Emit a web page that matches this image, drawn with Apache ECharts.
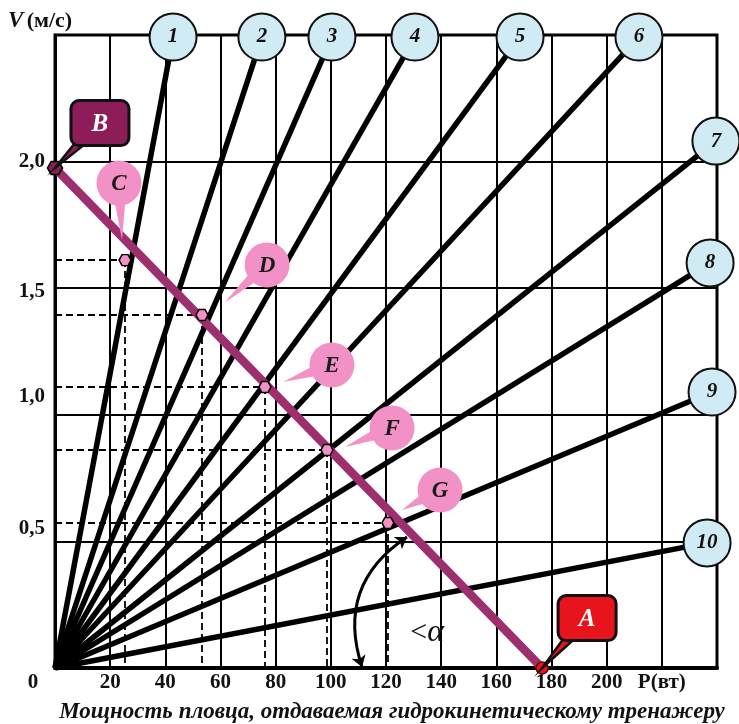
<!DOCTYPE html>
<html><head><meta charset="utf-8">
<script src="https://cdn.jsdelivr.net/npm/echarts@6/dist/echarts.min.js"></script>
<style>html,body{margin:0;padding:0;background:#fff}#c{width:739px;height:724px}</style>
</head><body><div id="c"></div>
<script>
// ---- data ----
const xTickLabels = ['0','20','40','60','80','100','120','140','160','180','200','P(вт)',''];
const yTickLabels = ['','0,5','1,0','1,5','2,0',''];
const rayLabels = ['1','2','3','4','5','6','7','8','9','10'];
const rayEndX = [42.8, 75.0, 100.4, 130.5, 168.6, 211.7, 239.6, 237.5, 238.2, 236.4];
const rayEndY = [2.492, 2.492, 2.492, 2.492, 2.492, 2.492, 2.081, 1.600, 1.090, 0.494];
const pointLabels = ['C','D','E','F','G'];
const pointX = [25.4, 53.3, 76.1, 98.6, 120.7];
const pointY = [1.611, 1.394, 1.110, 0.861, 0.573];
const bubbleX = [23.2, 76.9, 100.4, 122.2, 139.6];
const bubbleY = [1.915, 1.592, 1.197, 0.948, 0.703];
const bubbleTipX = [24.3, 61.6, 82.7, 105.1, 125.8];
const bubbleTipY = [1.690, 1.445, 1.130, 0.873, 0.624];
const pointB = [0, 1.975];
const pointA = [176.6, 0];
const boxLabels = ['B','A'];
const boxX = [16.3, 192.9];
const boxY = [2.152, 0.197];
const angleArc = [[127.6, 0.517], [111.3, 0.004]];
const angleLabel = [134.9, 0.138];

// ---- styles ----
const SERIF = '"Liberation Serif","DejaVu Serif",serif';
const PINK = '#F291C6';
const BLUE = '#D0EBF3';
const MAGENTA = '#9E2F6E';
const BOXCOL = ['#8C1D58', '#E8141C'];
const HEX = 'path://M5,0 L15,0 L20,8.66 L15,17.32 L5,17.32 L0,8.66Z';
const LBL = 21;

const chart = echarts.init(document.getElementById('c'), null, {renderer:'canvas'});

const rays = rayEndX.map((x, i) => ({coords: [[0, 0], [x, rayEndY[i]]]}));
const dashes = [];
pointX.forEach((x, i) => {
  dashes.push({coords: [[0, pointY[i]], [x, pointY[i]]]});
  dashes.push({coords: [[x, pointY[i]], [x, 0]]});
});

function wedge(c, t, w, back) {
  const dx = t[0]-c[0], dy = t[1]-c[1], L = Math.hypot(dx, dy);
  const nx = -dy/L, ny = dx/L;
  const bx = c[0] + dx/L*back, by = c[1] + dy/L*back;
  return [[bx+nx*w, by+ny*w], [t[0], t[1]], [bx-nx*w, by-ny*w]];
}
const rs = (pad) => ({padding: pad, fontFamily: SERIF, fontWeight: 'bold', fontSize: LBL, color: '#111'});

const option = {
  animation: false,
  backgroundColor: '#fff',
  grid: {left: 55, right: 22, top: 35, bottom: 56, show: true, borderColor: '#000', borderWidth: 3},
  xAxis: {
    type: 'value', min: 0, max: 240, interval: 20,
    axisLine: {show: true, onZero: false, lineStyle: {color: '#000', width: 4}},
    axisTick: {show: false},
    splitLine: {show: true, lineStyle: {color: '#000', width: 2}},
    axisLabel: {
      margin: 4, color: '#111', fontFamily: SERIF, fontWeight: 'bold', fontSize: LBL,
      showMinLabel: true, showMaxLabel: true,
      formatter: v => { const i = Math.round(v/20); return i === 0 ? '{z|0}' : (xTickLabels[i] || ''); },
      rich: {z: rs([0, 44, 0, 0])}
    }
  },
  yAxis: {
    type: 'value', min: 0, max: 2.5, interval: 0.5,
    axisLine: {show: true, onZero: false, lineStyle: {color: '#000', width: 3}},
    axisTick: {show: false},
    splitLine: {show: true, lineStyle: {color: '#000', width: 2}},
    axisLabel: {
      margin: 10, color: '#111', fontFamily: SERIF, fontWeight: 'bold', fontSize: LBL,
      formatter: v => {
        const i = Math.round(v/0.5); const s = yTickLabels[i] || '';
        if (i === 1) return '{a|' + s + '}';
        if (i === 2) return '{b|' + s + '}';
        if (i === 3) return '{c|' + s + '}';
        return s;
      },
      rich: {a: rs([0, 0, 26, 0]), b: rs([0, 0, 36, 0]), c: rs([6, 0, 0, 0])}
    }
  },
  graphic: [
    {type: 'text', z: 100, style: {x: 8, y: 21, textVerticalAlign: 'middle',
      text: '{v|V} {u|(м/с)}',
      rich: {v: {fontFamily: SERIF, fontStyle: 'italic', fontWeight: 'bold', fontSize: 23, fill: '#111'},
             u: {fontFamily: SERIF, fontWeight: 'bold', fontSize: 22, fill: '#111'}}}},
    {type: 'text', z: 100, style: {x: 392, y: 712, textAlign: 'center', textVerticalAlign: 'middle',
      text: 'Мощность пловца, отдаваемая гидрокинетическому тренажеру',
      font: 'italic bold 23px ' + SERIF, fill: '#111'}}
  ],
  series: [
    {type: 'lines', coordinateSystem: 'cartesian2d', z: 3, silent: true,
     lineStyle: {color: '#000', width: 1.8, type: [7, 4], opacity: 1}, data: dashes},
    {type: 'lines', coordinateSystem: 'cartesian2d', z: 4, silent: true,
     lineStyle: {color: '#000', width: 5.5, opacity: 1}, data: rays},
    {type: 'line', z: 5, symbol: 'none', silent: true,
     lineStyle: {color: MAGENTA, width: 8.5}, data: [pointB, pointA]},
    {type: 'lines', coordinateSystem: 'cartesian2d', z: 5, silent: true,
     symbol: ['arrow', 'arrow'], symbolSize: 11,
     lineStyle: {color: '#000', width: 3, curveness: -0.38, opacity: 1},
     data: [{coords: angleArc}]},
    {type: 'scatter', z: 6, clip: false, symbol: HEX, symbolSize: [12, 11], silent: true,
     itemStyle: {color: PINK, borderColor: '#000', borderWidth: 1.5, opacity: 1},
     data: pointX.map((x, i) => [x, pointY[i]])},
    {type: 'scatter', z: 6, clip: false, symbol: HEX, symbolSize: [15, 13], silent: true,
     itemStyle: {color: BOXCOL[0], borderColor: '#000', borderWidth: 1.5, opacity: 1},
     data: [pointB]},
    {type: 'scatter', z: 6, clip: false, symbol: 'circle', symbolSize: 12, silent: true,
     itemStyle: {color: BOXCOL[1], borderColor: '#600', borderWidth: 1.5, opacity: 1},
     data: [pointA]},
    {type: 'scatter', z: 8, clip: false, symbol: 'circle', symbolSize: 47, silent: true,
     itemStyle: {color: BLUE, borderColor: '#111', borderWidth: 2, opacity: 1},
     label: {show: true, position: 'inside', formatter: p => rayLabels[p.dataIndex],
       fontFamily: SERIF, fontStyle: 'italic', fontWeight: 'bold', fontSize: 21, color: '#111',
       textBorderWidth: 0},
     data: rayEndX.map((x, i) => [x, rayEndY[i]])},
    {type: 'custom', z: 7, silent: true, clip: false,
     data: bubbleX.map((x, i) => [x, bubbleY[i], bubbleTipX[i], bubbleTipY[i]]),
     renderItem: (params, api) => {
       const c = api.coord([api.value(0), api.value(1)]);
       const t = api.coord([api.value(2), api.value(3)]);
       const r = 22.5;
       return {type: 'group', children: [
         {type: 'polygon', shape: {points: wedge(c, t, 6, r*0.6)}, style: {fill: PINK}},
         {type: 'circle', shape: {cx: c[0], cy: c[1], r: r}, style: {fill: PINK}},
         {type: 'text', style: {text: pointLabels[params.dataIndex], x: c[0], y: c[1] + 1,
           textAlign: 'center', textVerticalAlign: 'middle',
           font: 'italic bold 23px ' + SERIF, fill: '#1a1a1a'}}
       ]};
     }},
    {type: 'custom', z: 7, silent: true, clip: false,
     data: boxX.map((x, i) => [x, boxY[i], i === 0 ? pointB[0] : pointA[0], i === 0 ? pointB[1] : pointA[1]]),
     renderItem: (params, api) => {
       const c = api.coord([api.value(0), api.value(1)]);
       const t = api.coord([api.value(2), api.value(3)]);
       const w = 58, h = 45, col = BOXCOL[params.dataIndex];
       return {type: 'group', children: [
         {type: 'polygon', shape: {points: wedge(c, t, 6, 10)}, style: {fill: col, stroke: '#111', lineWidth: 2.5}},
         {type: 'rect', shape: {x: c[0]-w/2, y: c[1]-h/2, width: w, height: h, r: 8},
          style: {fill: col, stroke: '#111', lineWidth: 3}},
         {type: 'text', style: {text: boxLabels[params.dataIndex], x: c[0], y: c[1] + 1,
           textAlign: 'center', textVerticalAlign: 'middle',
           font: 'italic bold 25px ' + SERIF, fill: '#fff'}}
       ]};
     }},
    {type: 'custom', z: 6, silent: true, clip: false,
     data: [angleLabel],
     renderItem: (params, api) => {
       const c = api.coord([api.value(0), api.value(1)]);
       return {type: 'text', style: {x: c[0], y: c[1], textAlign: 'center', textVerticalAlign: 'middle',
         text: '{l|<}{a|α}',
         rich: {l: {fontFamily: SERIF, fontSize: 30, fill: '#111'},
                a: {fontFamily: SERIF, fontStyle: 'italic', fontSize: 32, fill: '#111'}}}};
     }}
  ]
};
chart.setOption(option);
</script>
</body></html>
